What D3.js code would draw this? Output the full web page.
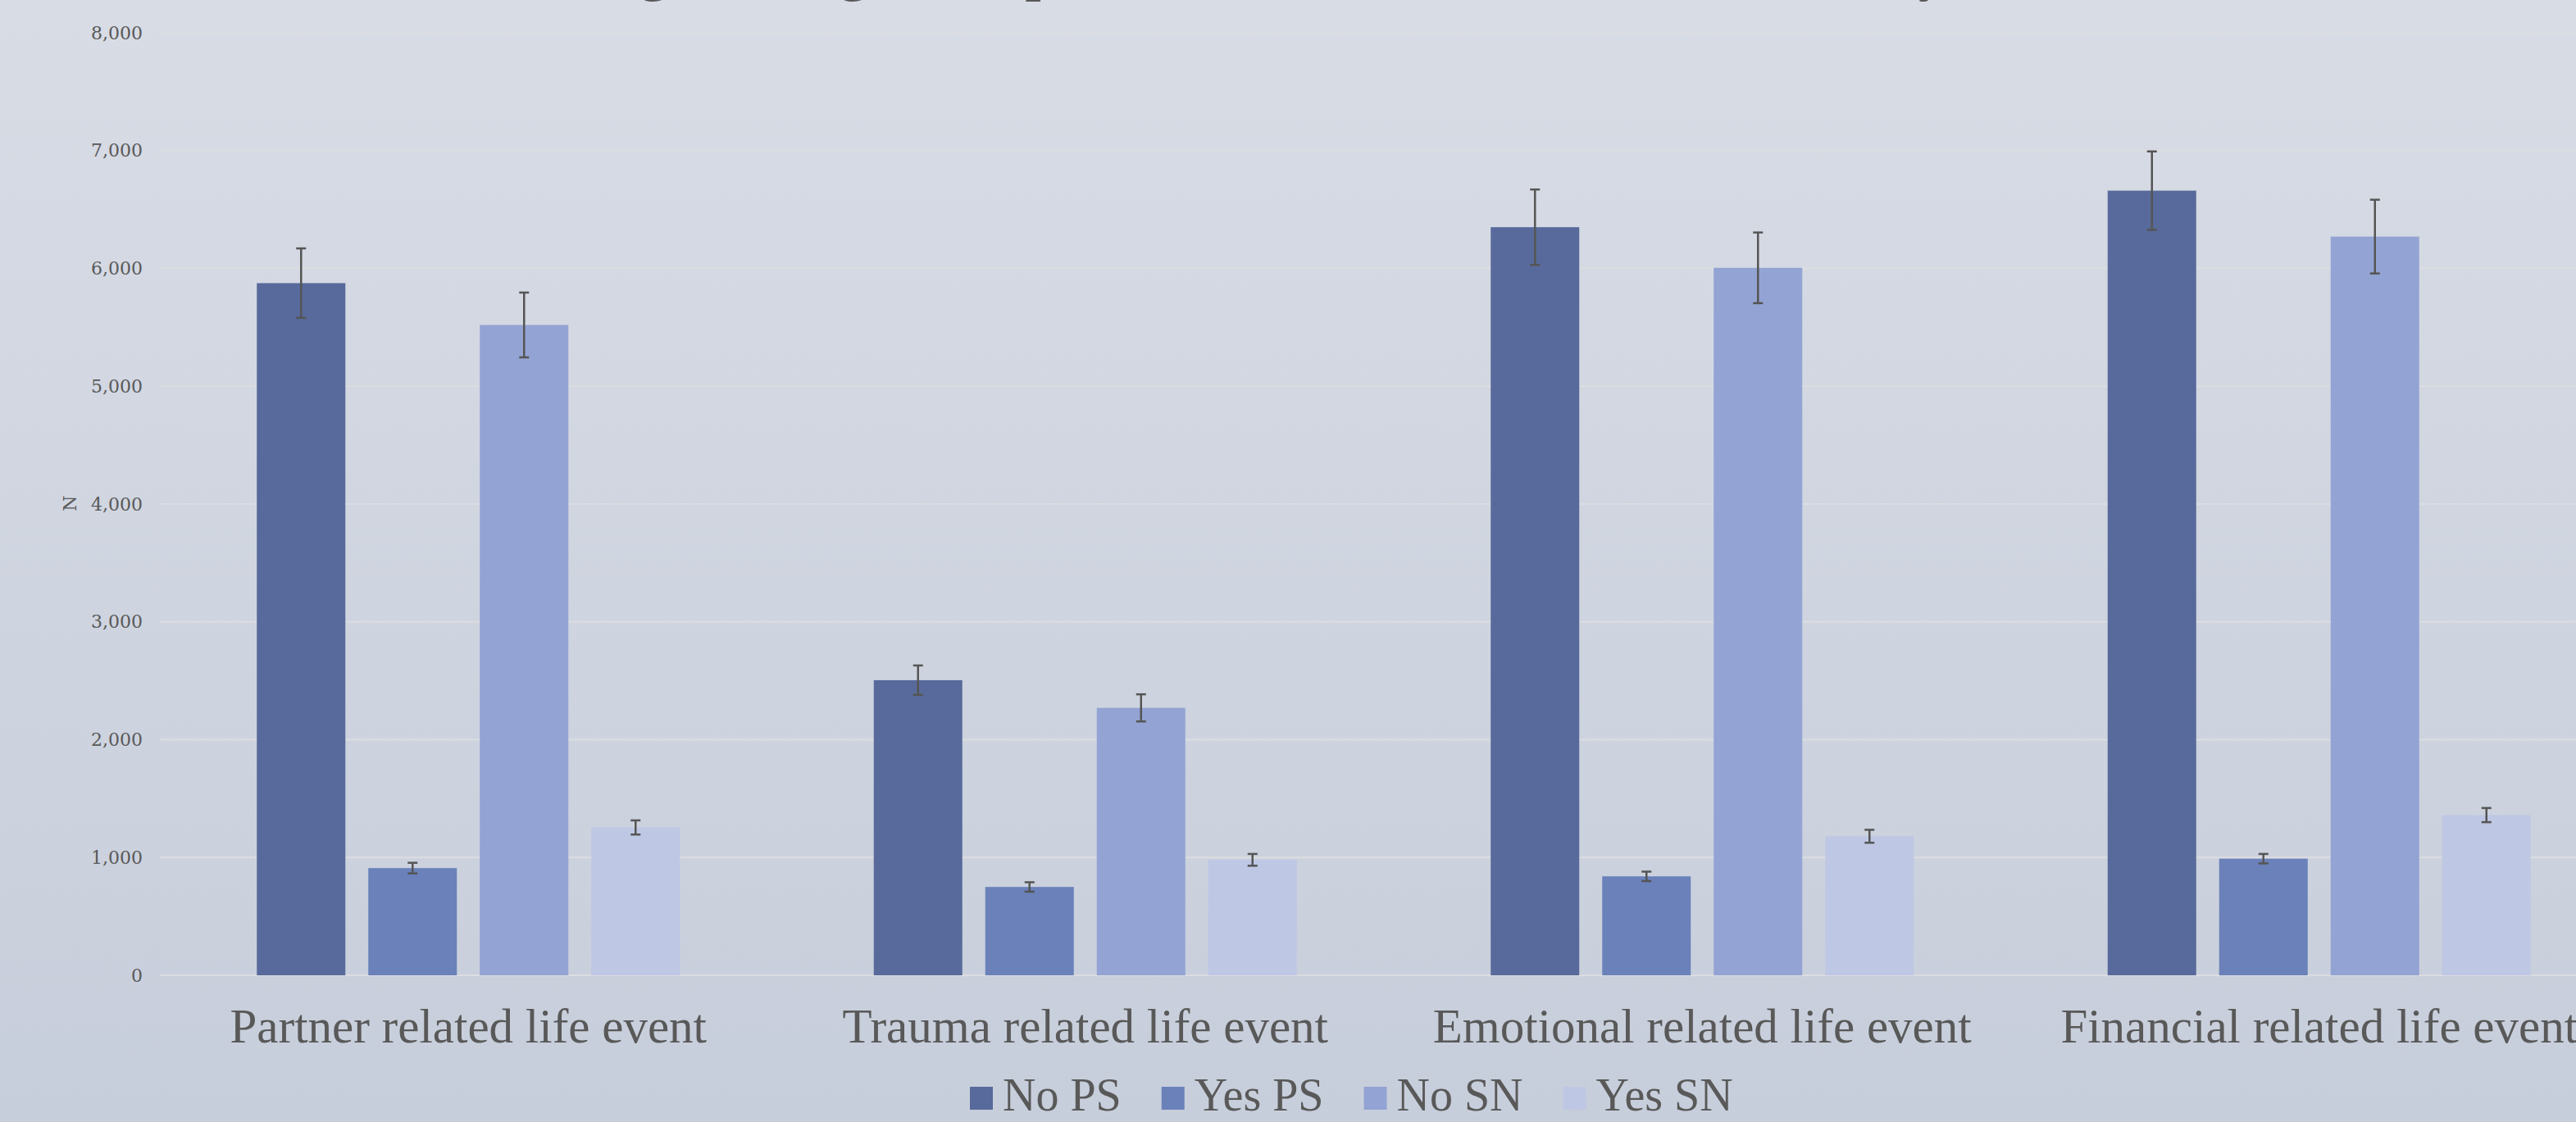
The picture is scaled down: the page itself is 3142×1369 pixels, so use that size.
<!DOCTYPE html>
<html><head><meta charset="utf-8">
<script src="https://cdn.jsdelivr.net/npm/d3@7"></script>
<style>html,body{margin:0;padding:0;overflow:hidden;background:#d0d5e0}</style>
</head><body>
<svg id="c" width="3142" height="1369"></svg>
<script>
const categories = ["Partner related life event","Trauma related life event","Emotional related life event","Financial related life event"];
const seriesNames = ["No PS","Yes PS","No SN","Yes SN"];
const noPS  = [5875, 2505, 6350, 6660];
const yesPS = [910, 750, 840, 990];
const noSN  = [5520, 2270, 6005, 6270];
const yesSN = [1255, 980, 1180, 1360];
const errNoPS  = [295, 125, 320, 333];
const errYesPS = [45, 40, 40, 40];
const errNoSN  = [275, 115, 300, 313];
const errYesSN = [60, 50, 55, 60];
const yTicks = [0,1000,2000,3000,4000,5000,6000,7000,8000];
const colors = ["#586a9b","#6a81ba","#93a3d3","#bec7e4"];
const titleText = "Average Rating of Help Received for Stressful Life Events by Status";

const values = [noPS, yesPS, noSN, yesSN];
const errs = [errNoPS, errYesPS, errNoSN, errYesSN];
const data = categories.map((c,i)=>({cat:c, items: seriesNames.map((s,j)=>({s, v:values[j][i], e:errs[j][i], j}))}));

const svg = d3.select("#c");
const W = 3142, H = 1369;
const defs = svg.append("defs");
const g = defs.append("linearGradient").attr("id","bg").attr("x1",0).attr("y1",0).attr("x2",0).attr("y2",1);
g.append("stop").attr("offset","0%").attr("stop-color","#d8dce5");
g.append("stop").attr("offset","100%").attr("stop-color","#c7cedb");
svg.append("rect").attr("width",W).attr("height",H).attr("fill","url(#bg)");

const x0 = d3.scaleBand().domain(categories).range([195, 3205]).paddingInner(0).paddingOuter(0);
const groupW = 516;
const x1 = d3.scaleBand().domain(seriesNames).range([0, groupW]).paddingInner(28/136).paddingOuter(0);
const y = d3.scaleLinear().domain([0, 8000]).range([1190, 40]);
const textColor = "#595959";

// title (mostly outside view, as in the reference)
svg.append("text").attr("x", 1590).attr("y", -12).attr("text-anchor","middle")
  .attr("font-family","Liberation Serif").attr("font-weight","bold").attr("font-size",68)
  .attr("fill",textColor).text(titleText);

// gridlines
svg.append("g").selectAll("line").data(yTicks).join("line")
  .attr("x1",195).attr("x2",W).attr("y1",d=>y(d)).attr("y2",d=>y(d))
  .attr("stroke","#dcdde1").attr("stroke-width",2);

// y axis labels
const yAxis = d3.axisLeft(y).tickValues(yTicks).tickFormat(d3.format(",")).tickSize(0).tickPadding(0);
const ya = svg.append("g").attr("transform","translate(174,0)").call(yAxis);
ya.select(".domain").remove();
ya.selectAll("text").attr("font-family","DejaVu Serif").attr("font-size",22).attr("fill",textColor);

svg.append("text").attr("transform","translate(93,614) rotate(-90)").attr("text-anchor","middle")
  .attr("font-family","DejaVu Serif").attr("font-size",22).attr("fill",textColor).text("N");

// bars
const off = (x0.bandwidth()-groupW)/2;
const groups = svg.append("g").selectAll("g").data(data).join("g")
  .attr("transform", d=>`translate(${x0(d.cat)+off},0)`);
groups.selectAll("rect").data(d=>d.items).join("rect")
  .attr("x", d=>x1(d.s)).attr("width", x1.bandwidth())
  .attr("y", d=>y(d.v)).attr("height", d=>y(0)-y(d.v))
  .attr("fill", d=>colors[d.j]);

// error bars
const eb = groups.selectAll("g.eb").data(d=>d.items).join("g").attr("class","eb")
  .attr("stroke","#555555").attr("stroke-width",2.5);
eb.append("line").attr("x1",d=>x1(d.s)+x1.bandwidth()/2).attr("x2",d=>x1(d.s)+x1.bandwidth()/2)
  .attr("y1",d=>y(d.v+d.e)).attr("y2",d=>y(d.v-d.e));
eb.append("line").attr("x1",d=>x1(d.s)+x1.bandwidth()/2-6).attr("x2",d=>x1(d.s)+x1.bandwidth()/2+6)
  .attr("y1",d=>y(d.v+d.e)).attr("y2",d=>y(d.v+d.e));
eb.append("line").attr("x1",d=>x1(d.s)+x1.bandwidth()/2-6).attr("x2",d=>x1(d.s)+x1.bandwidth()/2+6)
  .attr("y1",d=>y(d.v-d.e)).attr("y2",d=>y(d.v-d.e));

// category labels
svg.append("g").selectAll("text").data(categories).join("text")
  .attr("x", d=>x0(d)+x0.bandwidth()/2).attr("y",1272).attr("text-anchor","middle")
  .attr("font-family","Liberation Serif").attr("font-size",59).attr("fill",textColor).text(d=>d);

// legend
const lg = svg.append("g");
let lx = 1183;
seriesNames.forEach((s,j)=>{
  lg.append("rect").attr("x",lx).attr("y",1326).attr("width",28).attr("height",28).attr("fill",colors[j]);
  const t = lg.append("text").attr("x",lx+40).attr("y",1355).attr("font-family","Liberation Serif")
    .attr("font-size",56).attr("fill",textColor).text(s);
  lx = lx + 40 + t.node().getComputedTextLength() + 49;
});
</script>
</body></html>
